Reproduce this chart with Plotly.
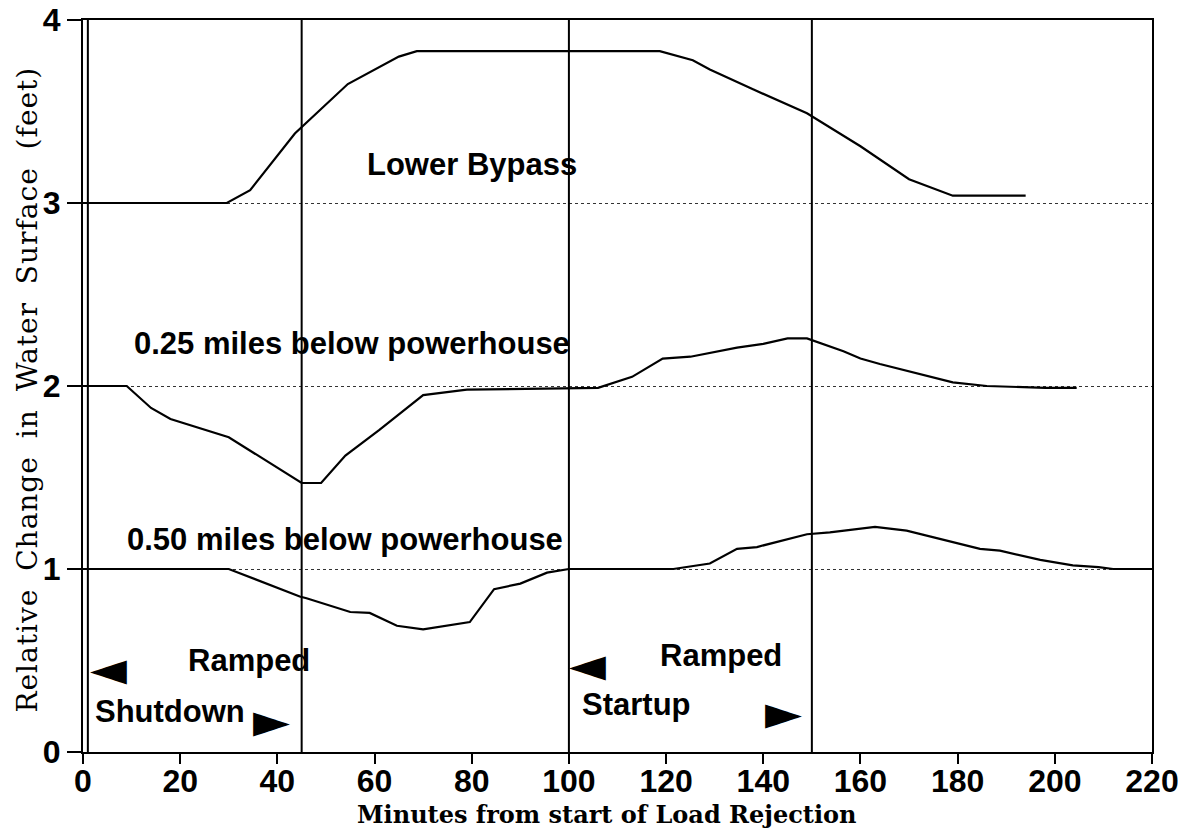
import plotly.graph_objects as go

# ---- data ----
bypass_x = [0, 29.6, 34.4, 43.6, 54.5, 65, 68.7, 100, 118.7, 125.5, 129, 138, 149, 160, 170, 179, 194]
bypass_y = [3.0, 3.0, 3.07, 3.38, 3.65, 3.8, 3.83, 3.83, 3.83, 3.78, 3.73, 3.62, 3.49, 3.31, 3.13, 3.04, 3.04]

q25_x = [0, 9, 14, 18, 30, 45, 49, 54, 61, 70, 79, 100, 106, 113, 119.3, 125, 134.6, 140, 145, 149, 156.5, 160, 164, 179, 186, 198, 204.5]
q25_y = [2.0, 2.0, 1.88, 1.82, 1.72, 1.47, 1.47, 1.62, 1.76, 1.95, 1.98, 1.99, 1.99, 2.05, 2.15, 2.16, 2.21, 2.23, 2.26, 2.26, 2.19, 2.15, 2.12, 2.02, 2.0, 1.99, 1.99]

q50_x = [0, 30, 44.6, 46, 55, 59, 64.6, 70, 79.6, 84.6, 90, 95.5, 100, 121.5, 129, 134.6, 138.7, 149, 153.7, 163, 169.5, 184.6, 188.7, 197, 203.7, 209, 212, 220]
q50_y = [1.0, 1.0, 0.85, 0.84, 0.765, 0.76, 0.69, 0.67, 0.71, 0.89, 0.92, 0.98, 1.0, 1.0, 1.03, 1.11, 1.12, 1.19, 1.20, 1.23, 1.21, 1.11, 1.10, 1.05, 1.02, 1.01, 1.0, 1.0]

event_minutes = [1, 45, 100, 150]

x_ticks = [0, 20, 40, 60, 80, 100, 120, 140, 160, 180, 200, 220]
y_ticks = [0, 1, 2, 3, 4]

x_title = "Minutes from start of Load Rejection"
y_title = "Relative Change in Water Surface (feet)"

label_text = ["Lower Bypass", "0.25 miles below powerhouse", "0.50 miles below powerhouse",
              "Ramped", "Shutdown", "Ramped", "Startup"]
label_x = [58, 10.1, 8.6, 47.1, 2.0, 131.3, 102.3]
label_y = [3.21, 2.23, 1.16, 0.50, 0.22, 0.525, 0.257]
label_anchor = ["left", "left", "left", "right", "left", "center", "left"]

arrow_text = ["\u25c4", "\u25ba", "\u25c4", "\u25ba"]
arrow_x = [5.3, 38.7, 103.8, 144.1]
arrow_y = [0.46, 0.175, 0.48, 0.22]

fig = go.Figure()
line_style = dict(color="black", width=2.2)
for xs, ys in [(bypass_x, bypass_y), (q25_x, q25_y), (q50_x, q50_y)]:
    fig.add_trace(go.Scatter(x=xs, y=ys, mode="lines", line=line_style, showlegend=False, hoverinfo="skip"))

for xv in event_minutes:
    fig.add_shape(type="line", x0=xv, x1=xv, xref="x", y0=0, y1=1, yref="paper",
                  line=dict(color="black", width=2))

for t, xv, yv, anc in zip(label_text, label_x, label_y, label_anchor):
    fig.add_annotation(x=xv, y=yv, text=t, showarrow=False, xanchor=anc, yanchor="middle",
                       font=dict(family="Liberation Sans", size=31, color="black", weight="bold"))

for t, xv, yv in zip(arrow_text, arrow_x, arrow_y):
    fig.add_annotation(x=xv, y=yv, text=t, showarrow=False, xanchor="center", yanchor="middle",
                       font=dict(family="DejaVu Sans", size=48, color="black"))

# axis titles
fig.add_annotation(x=0.49, y=-0.086, xref="paper", yref="paper", text=x_title, showarrow=False,
                   xanchor="center", yanchor="middle",
                   font=dict(family="DejaVu Serif", size=24, color="black", weight="bold"))
fig.add_annotation(x=-0.0515, y=0.495, xref="paper", yref="paper",
                   text='<span style="letter-spacing:1px;word-spacing:8px">' + y_title + '</span>',
                   showarrow=False, textangle=-90, xanchor="center", yanchor="middle",
                   font=dict(family="DejaVu Serif", size=28, color="black"))

tick_font = dict(family="Liberation Sans", size=32, color="black", weight="bold")
fig.update_layout(
    width=1178, height=827,
    margin=dict(l=75, r=34, t=12, b=83),
    paper_bgcolor="white", plot_bgcolor="white",
    xaxis=dict(range=[0, 220], tickvals=x_ticks, ticks="outside", ticklen=10, tickwidth=2,
               tickcolor="black", showline=True, linecolor="black", linewidth=2, mirror=True,
               showgrid=False, zeroline=False, automargin=False, ticklabeloverflow="allow",
               ticklabelstandoff=-10, tickfont=tick_font),
    yaxis=dict(range=[0, 4], tickvals=y_ticks, ticks="outside", ticklen=14, tickwidth=2,
               tickcolor="black", showline=True, linecolor="black", linewidth=2, mirror=True,
               showgrid=True, gridcolor="#333", gridwidth=1, griddash="dot", zeroline=False,
               automargin=False, ticklabeloverflow="allow",
               tickfont=tick_font),
)

fig.write_html("out.html")
